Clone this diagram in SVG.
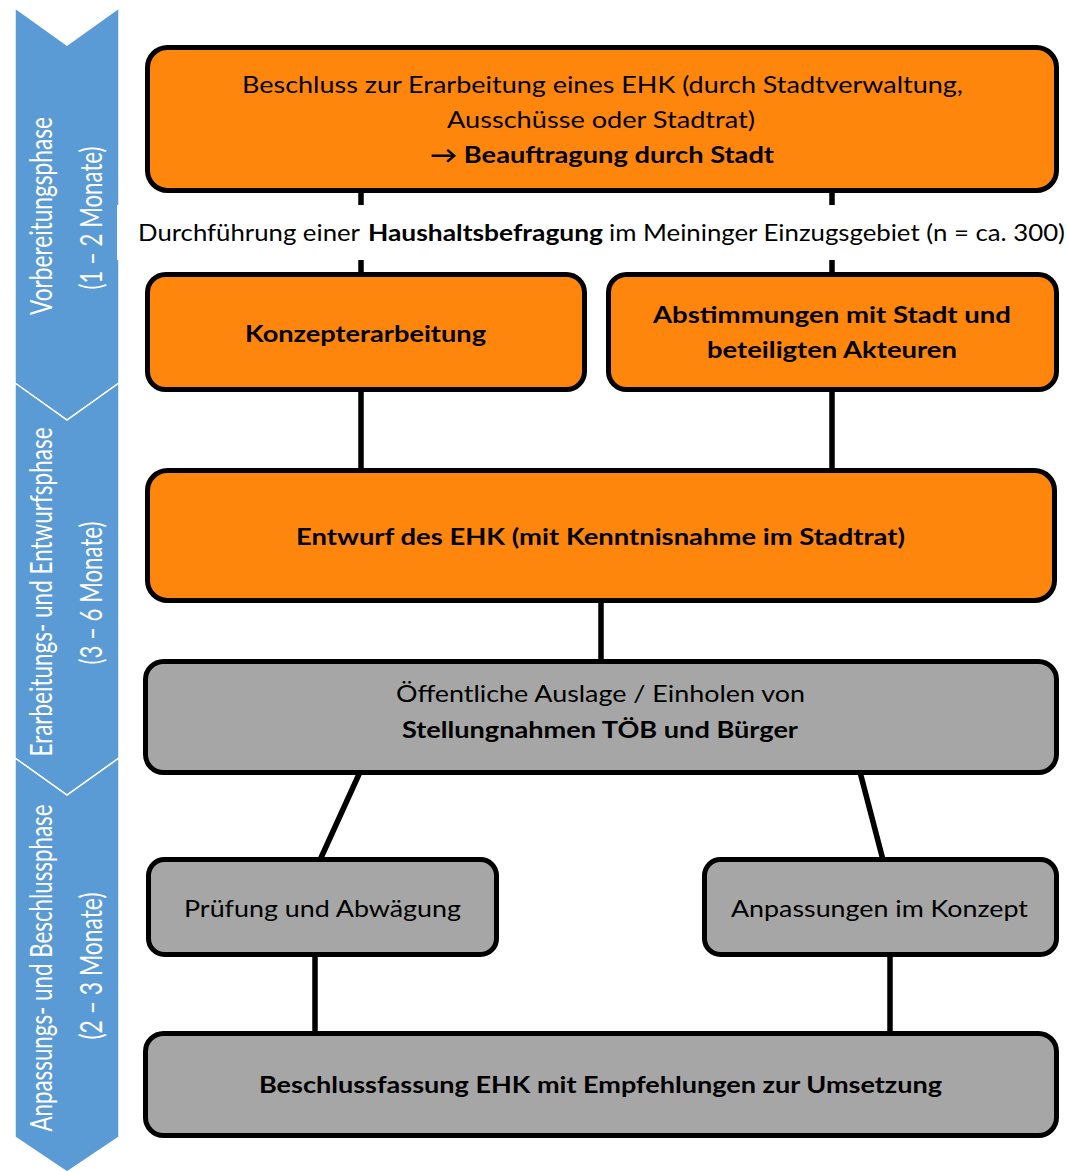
<svg xmlns="http://www.w3.org/2000/svg" width="1068" height="1171" viewBox="0 0 1068 1171">
<style>
.phase{fill:#5B9BD5;stroke:#ffffff;stroke-width:1.5}
.ptxt{font-family:Lato,"Liberation Sans",sans-serif;font-weight:400;font-size:31px;fill:#ffffff;text-anchor:middle}
.box{stroke:#000000;stroke-width:5}
.or{fill:#FF860D}
.gr{fill:#A6A6A6}
.t{font-family:Lato,"Liberation Sans",sans-serif;font-size:23px;fill:#000000;text-anchor:middle}
.b{font-weight:bold}
.conn line{stroke:#000000;stroke-width:5.5}
</style>
<rect width="1068" height="1171" fill="#ffffff"/>
<g id="phases">
<polygon class="phase" points="15,8 67,45 119,8 119,383 67,420 15,383"/>
<polygon class="phase" points="15,383 67,420 119,383 119,758 67,795 15,758"/>
<polygon class="phase" points="15,758 67,795 119,758 119,1137 67,1172 15,1137"/>
<text class="ptxt" transform="translate(52,216) rotate(-90)" textLength="198" lengthAdjust="spacingAndGlyphs">Vorbereitungsphase</text>
<text class="ptxt" transform="translate(102,218) rotate(-90)" textLength="143" lengthAdjust="spacingAndGlyphs">(1 – 2 Monate)</text>
<text class="ptxt" transform="translate(52,592) rotate(-90)" textLength="329" lengthAdjust="spacingAndGlyphs">Erarbeitungs- und Entwurfsphase</text>
<text class="ptxt" transform="translate(102,593) rotate(-90)" textLength="143" lengthAdjust="spacingAndGlyphs">(3 – 6 Monate)</text>
<text class="ptxt" transform="translate(52,968) rotate(-90)" textLength="327" lengthAdjust="spacingAndGlyphs">Anpassungs- und Beschlussphase</text>
<text class="ptxt" transform="translate(102,966) rotate(-90)" textLength="147" lengthAdjust="spacingAndGlyphs">(2 – 3 Monate)</text>
</g>
<g id="connectors" class="conn">
<line x1="361" y1="190" x2="361" y2="275"/>
<line x1="832" y1="190" x2="832" y2="275"/>
<line x1="361" y1="389" x2="361" y2="471"/>
<line x1="832" y1="389" x2="832" y2="471"/>
<line x1="601" y1="600" x2="601" y2="662"/>
<line x1="360" y1="772" x2="320" y2="860"/>
<line x1="860" y1="772" x2="883" y2="860"/>
<line x1="315" y1="954" x2="315" y2="1034"/>
<line x1="890" y1="954" x2="890" y2="1034"/>
</g>
<g id="label-befragung">
<rect x="117" y="205" width="951" height="55" fill="#ffffff"/>
<text class="t" x="138" y="241" style="text-anchor:start" textLength="222" lengthAdjust="spacingAndGlyphs">Durchführung einer</text>
<text class="t b" x="368" y="241" style="text-anchor:start" textLength="235" lengthAdjust="spacingAndGlyphs">Haushaltsbefragung</text>
<text class="t" x="609" y="241" style="text-anchor:start" textLength="456" lengthAdjust="spacingAndGlyphs">im Meininger Einzugsgebiet (n = ca. 300)</text>
</g>
<g id="beschluss">
<rect class="box or" x="147.5" y="47.5" width="909" height="143" rx="20"/>
<text class="t" x="602.5" y="93" textLength="721" lengthAdjust="spacingAndGlyphs">Beschluss zur Erarbeitung eines EHK (durch Stadtverwaltung,</text>
<text class="t" x="601" y="128" textLength="308" lengthAdjust="spacingAndGlyphs">Ausschüsse oder Stadtrat)</text>
<text class="t b" x="602" y="163" textLength="344" lengthAdjust="spacingAndGlyphs">→ Beauftragung durch Stadt</text>
</g>
<g id="konzepterarbeitung">
<rect class="box or" x="147.5" y="274.5" width="437" height="115" rx="18"/>
<text class="t b" x="365.5" y="342" textLength="241" lengthAdjust="spacingAndGlyphs">Konzepterarbeitung</text>
</g>
<g id="abstimmungen">
<rect class="box or" x="608.5" y="274.5" width="448" height="115" rx="18"/>
<text class="t b" x="832" y="323" textLength="358" lengthAdjust="spacingAndGlyphs">Abstimmungen mit Stadt und</text>
<text class="t b" x="832" y="358" textLength="250" lengthAdjust="spacingAndGlyphs">beteiligten Akteuren</text>
</g>
<g id="entwurf">
<rect class="box or" x="147.5" y="470.5" width="907" height="130" rx="20"/>
<text class="t b" x="600.5" y="545" textLength="609" lengthAdjust="spacingAndGlyphs">Entwurf des EHK (mit Kenntnisnahme im Stadtrat)</text>
</g>
<g id="auslage">
<rect class="box gr" x="145.5" y="661.5" width="911" height="111" rx="18"/>
<text class="t" x="600.5" y="702" textLength="409" lengthAdjust="spacingAndGlyphs">Öffentliche Auslage / Einholen von</text>
<text class="t b" x="600" y="738" textLength="396" lengthAdjust="spacingAndGlyphs">Stellungnahmen TÖB und Bürger</text>
</g>
<g id="pruefung">
<rect class="box gr" x="148.5" y="859.5" width="348" height="95" rx="16"/>
<text class="t" x="322.5" y="917" textLength="277" lengthAdjust="spacingAndGlyphs">Prüfung und Abwägung</text>
</g>
<g id="anpassungen">
<rect class="box gr" x="704.5" y="859.5" width="352" height="95" rx="16"/>
<text class="t" x="879.5" y="917" textLength="297" lengthAdjust="spacingAndGlyphs">Anpassungen im Konzept</text>
</g>
<g id="beschlussfassung">
<rect class="box gr" x="145.5" y="1033.5" width="911" height="102" rx="18"/>
<text class="t b" x="600.5" y="1093" textLength="683" lengthAdjust="spacingAndGlyphs">Beschlussfassung EHK mit Empfehlungen zur Umsetzung</text>
</g>
</svg>
